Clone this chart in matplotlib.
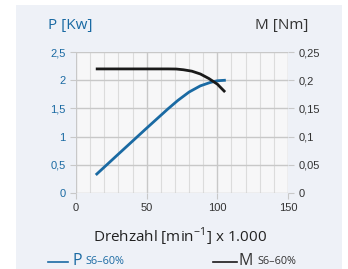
import matplotlib
matplotlib.use('Agg')
import matplotlib.pyplot as plt
from matplotlib.lines import Line2D
from matplotlib.patches import Rectangle
import numpy as np

# speed [min-1 x 1000], power [kW], torque [Nm]
speed_p = [14, 30, 50, 65, 72, 80, 88, 95, 100, 106]
power = [0.32, 0.69, 1.15, 1.49, 1.64, 1.79, 1.90, 1.96, 1.99, 2.0]
speed_m = [14, 40, 65, 71, 76, 82, 88, 94, 100, 105.5]
torque = [0.22, 0.22, 0.22, 0.2198, 0.2185, 0.216, 0.211, 0.203, 0.193, 0.179]

x_ticks = [0, 50, 100, 150]
p_ticks = [0, 0.5, 1, 1.5, 2, 2.5]
p_labels = ['0', '0,5', '1', '1,5', '2', '2,5']
m_ticks = [0, 0.05, 0.1, 0.15, 0.2, 0.25]
m_labels = ['0', '0,05', '0,1', '0,15', '0,2', '0,25']

BLUE = '#1a6aa3'
DARK = '#333333'
FONT = ['Open Sans', 'DejaVu Sans']
W, H = 348, 269

plt.rcParams['mathtext.fontset'] = 'custom'
plt.rcParams['mathtext.rm'] = 'Open Sans'

fig = plt.figure(figsize=(W / 100, H / 100), dpi=100)
fig.patch.set_facecolor('white')
fig.patches.append(Rectangle((16 / W, 0), 326 / W, 1 - 5 / H, transform=fig.transFigure,
                             facecolor='#eef1f7', edgecolor='none', zorder=-10))

ax = fig.add_axes([76 / W, 1 - 193 / H, 212 / W, 141 / H])
ax.set_facecolor('#f7f7f8')
ax.set_xlim(0, 150)
ax.set_ylim(0, 2.5)
ax.set_xticks(x_ticks)
ax.set_xticks(np.arange(0, 151, 10), minor=True)
ax.set_yticks(p_ticks)
ax.set_yticklabels(p_labels)
ax.grid(which='minor', axis='x', color='#dcdcdc', lw=0.8)
ax.grid(which='major', axis='both', color='#c8c8c8', lw=1.0)
ax.set_axisbelow(True)
for s in ax.spines.values():
    s.set_visible(False)
ax.tick_params(axis='both', which='major', length=4, color='#c8c8c8', labelsize=8)
ax.tick_params(axis='both', which='minor', length=0)
ax.tick_params(axis='y', colors='#c8c8c8', labelcolor=BLUE)
ax.tick_params(axis='x', labelcolor=DARK)
for lab in ax.get_xticklabels() + ax.get_yticklabels():
    lab.set_family('Liberation Sans')

ax.plot(speed_p, power, color=BLUE, lw=2.0, solid_capstyle='butt', zorder=3)

ax2 = ax.twinx()
ax2.set_ylim(0, 0.25)
ax2.set_yticks(m_ticks)
ax2.set_yticklabels(m_labels)
for s in ax2.spines.values():
    s.set_visible(False)
ax2.tick_params(axis='y', length=4, color='#c8c8c8', labelcolor=DARK, labelsize=8)
for lab in ax2.get_yticklabels():
    lab.set_family('Liberation Sans')
ax2.plot(speed_m, torque, color='#1a1a1a', lw=2.0, solid_capstyle='butt', zorder=3)

fig.text(48 / W, 1 - 25 / H, 'P [Kw]', color=BLUE, fontsize=11, family=FONT, va='center')
fig.text(308 / W, 1 - 25 / H, 'M [Nm]', color=DARK, fontsize=11, family=FONT,
         va='center', ha='right')
fig.text(180 / W, 1 - 237 / H, r'Drehzahl [min$^{\mathregular{-1}}$] x 1.000', color='#222222',
         fontsize=11, family=FONT, ha='center', va='center')

# legend
fig.lines.append(Line2D([48 / W, 68 / W], [1 - 262 / H] * 2, transform=fig.transFigure,
                        color=BLUE, lw=1.2))
fig.text(72 / W, 1 - 261 / H, 'P', color=BLUE, fontsize=11.5, family=FONT, va='center')
fig.text(85 / W, 1 - 262 / H, 'S6–60%', color=BLUE, fontsize=7.8, family=FONT, va='center')
fig.lines.append(Line2D([213 / W, 237 / W], [1 - 262 / H] * 2, transform=fig.transFigure,
                        color='#1a1a1a', lw=1.2))
fig.text(239 / W, 1 - 261 / H, 'M', color=DARK, fontsize=11.5, family=FONT, va='center')
fig.text(257 / W, 1 - 262 / H, 'S6–60%', color=DARK, fontsize=7.8, family=FONT, va='center')

fig.savefig('out.png', dpi=100)
